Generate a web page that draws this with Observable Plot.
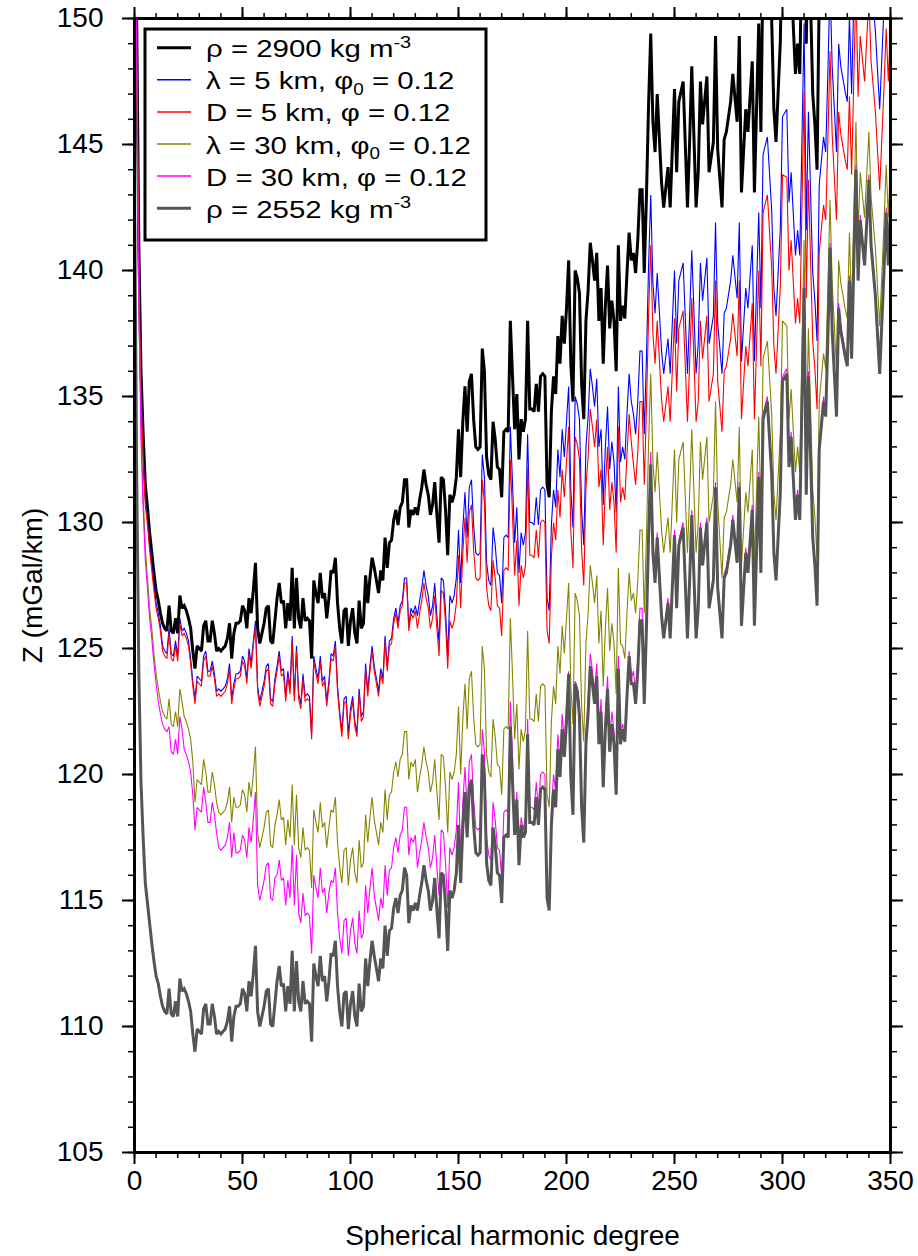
<!DOCTYPE html>
<html>
<head>
<meta charset="utf-8">
<script src="https://cdn.jsdelivr.net/npm/d3@7"></script>
<script src="https://cdn.jsdelivr.net/npm/@observablehq/plot@0.6"></script>
<style>
  html, body { margin: 0; padding: 0; background: white; overflow: hidden; }
</style>
</head>
<body>
<div id="chart"></div>
<script>
// Spherical harmonic degree (x values)
const degree = [
  0,1,2,3,4,5,6,7,8,9,10,11,12,13,14,15,16,17,18,19,
  20,21,22,23,24,25,26,27,28,29,30,31,32,33,34,35,36,37,38,39,
  40,41,42,43,44,45,46,47,48,49,50,51,52,53,54,55,56,57,58,59,
  60,61,62,63,64,65,66,67,68,69,70,71,72,73,74,75,76,77,78,79,
  80,81,82,83,84,85,86,87,88,89,90,91,92,93,94,95,96,97,98,99,
  100,101,102,103,104,105,106,107,108,109,110,111,112,113,114,115,116,117,118,119,
  120,121,122,123,124,125,126,127,128,129,130,131,132,133,134,135,136,137,138,139,
  140,141,142,143,144,145,146,147,148,149,150,151,152,153,154,155,156,157,158,159,
  160,161,162,163,164,165,166,167,168,169,170,171,172,173,174,175,176,177,178,179,
  180,181,182,183,184,185,186,187,188,189,190,191,192,193,194,195,196,197,198,199,
  200,201,202,203,204,205,206,207,208,209,210,211,212,213,214,215,216,217,218,219,
  220,221,222,223,224,225,226,227,228,229,230,231,232,233,234,235,236,237,238,239,
  240,241,
  242,244,245,247,248,250,251,252,254,256,257,258,260,261,262,263,265,266,268,269,
  270,272,273,274,276,277,279,280,281,283,284,286,287,289,290,291,293,295,296,297,
  299,300,302,303,304,306,307,308,310,311,312,314,315,316,317,319,320,321,322,323,
  325,326,327,329,330,331,332,334,335,336,338,340,341,343,345,347,348,349,350
];

// rho = 2900 kg m-3
const rho2900 = [
  163.0,150.0,141.0,136.0,133.5,131.5,130.6,129.6,128.8,128.0,127.3,
  126.9,126.4,126.0,125.8,125.7,126.7,125.7,125.6,126.2,125.6,
  127.1,126.6,126.7,126.5,126.2,125.8,124.9,124.2,125.1,125.0,
  124.9,125.9,126.1,125.3,125.3,126.1,125.6,124.9,125.0,124.9,
  125.0,125.1,125.4,126.0,124.6,125.6,126.0,126.0,126.1,126.7,
  126.5,125.8,127.0,126.4,127.3,128.4,125.8,125.2,125.6,126.0,
  126.6,126.7,125.3,125.2,126.1,127.0,127.6,126.8,126.9,125.8,
  126.8,126.1,128.2,125.8,127.8,126.2,125.8,127.0,126.1,126.2,
  126.1,124.6,127.7,127.2,126.8,128.0,127.0,127.2,126.2,127.0,
  128.1,128.0,128.6,126.8,125.8,125.2,126.5,126.6,125.1,126.1,
  126.6,125.6,125.2,126.9,125.8,126.0,127.9,126.8,127.8,128.6,
  128.2,127.7,127.2,128.1,127.7,129.4,128.2,129.2,129.3,130.1,
  130.5,129.9,130.6,130.8,131.7,131.7,129.8,130.5,130.3,130.6,
  130.3,130.9,131.4,132.1,131.5,131.1,130.3,130.7,131.6,130.3,
  129.2,131.8,131.7,130.5,128.7,131.1,130.8,131.1,131.8,133.7,
  131.8,134.0,135.4,133.6,135.6,135.9,134.1,133.0,132.9,133.0,
  136.9,136.0,132.6,131.9,131.7,134.0,133.3,132.2,132.1,131.0,
  133.6,133.7,133.6,138.0,135.8,133.7,135.1,132.5,134.1,133.6,
  134.1,138.0,134.5,134.5,134.4,135.5,134.4,135.8,135.9,135.8,
  131.5,131.0,134.4,135.8,135.1,137.4,136.3,138.2,137.1,138.5,
  140.4,136.3,134.8,140.0,139.7,139.1,135.5,134.1,138.0,139.2,
  141.1,140.4,139.6,140.7,138.0,139.3,136.3,138.6,140.2,137.7,
  138.8,138.0,136.0,141.0,138.0,138.6,138.1,139.9,141.5,140.4,
  140.7,139.9,141.2,143.2,143.2,139.9,142.9,146.6,149.4,145.9,144.7,
  147.0,143.5,142.5,144.1,142.5,147.2,143.9,146.7,147.5,142.5,145.1,148.1,142.5,143.9,147.5,145.8,147.7,143.9,145.1,149.3,
  144.8,142.5,145.2,145.5,146.7,147.8,145.9,149.3,143.1,146.4,145.5,148.3,143.1,149.8,145.5,152.4,153.2,149.9,146.4,145.1,
  149.1,154.1,154.4,150.2,151.6,147.8,149.0,147.8,158.3,149.0,154.3,147.0,145.8,144.0,151.0,153.2,152.5,156.0,160.1,156.4,
  152.5,157.4,156.4,155.2,154.8,158.6,155.1,163.6,158.6,161.4,159.3,163.2,160.2,158.0,154.4,159.1,161.7,159.3,161.9
];

// lambda = 5 km, phi0 = 0.12
const lambda5 = [
  162.2,149.3,140.3,135.3,132.8,130.9,130.1,129.1,128.3,127.5,126.8,
  126.4,125.9,125.1,124.9,124.8,125.8,124.8,124.7,125.3,124.7,
  126.2,125.7,125.8,125.6,125.3,124.6,123.7,123.0,123.9,123.8,
  123.7,124.7,124.9,124.1,124.1,124.5,124.0,123.3,123.4,123.3,
  123.4,123.5,123.8,124.4,123.0,123.6,124.0,124.0,124.1,124.7,
  124.5,123.8,125.0,124.4,125.3,126.1,123.5,122.9,123.3,123.7,
  124.3,124.4,123.0,122.9,123.8,124.3,124.9,124.1,124.2,123.1,
  124.1,123.4,125.5,123.1,125.1,123.2,122.8,124.0,123.1,123.2,
  123.1,121.6,124.7,124.2,123.8,124.7,123.7,123.9,122.9,123.7,
  124.8,124.7,125.3,123.5,122.5,121.7,123.0,123.1,121.6,122.6,
  123.1,122.1,121.7,123.4,122.3,122.5,124.4,123.3,124.3,125.1,
  124.3,123.8,123.3,124.2,123.8,125.5,124.3,125.3,125.4,126.2,
  126.6,126.0,126.7,126.9,127.8,127.8,125.9,126.6,126.4,126.7,
  126.3,126.9,127.4,128.1,127.5,127.1,126.3,126.7,127.6,126.3,
  125.2,127.8,127.7,126.5,124.7,127.1,126.8,127.1,127.8,129.7,
  127.6,129.8,131.2,129.4,131.4,131.7,129.9,128.8,128.7,128.8,
  132.7,131.8,128.4,127.7,127.5,129.8,129.1,128.0,127.9,126.8,
  129.4,129.5,129.4,133.8,131.6,129.2,130.6,128.0,129.6,129.1,
  129.6,133.5,130.0,130.0,129.9,131.0,129.9,131.3,131.4,131.3,
  127.0,126.5,129.9,131.3,130.6,132.9,131.8,133.7,132.6,134.0,
  135.4,131.3,129.8,135.0,134.7,134.1,130.5,129.1,133.0,134.2,
  136.1,135.4,134.6,135.7,133.0,133.7,130.7,133.0,134.6,132.1,
  133.2,132.4,130.4,135.4,132.4,133.0,132.5,134.3,135.9,134.8,
  134.3,133.5,134.8,136.8,136.8,133.5,136.5,140.2,143.0,139.5,138.3,
  139.9,136.8,135.9,137.3,135.9,140.0,137.1,139.6,140.3,135.9,138.2,140.8,135.9,137.1,140.3,138.8,140.5,137.1,138.2,141.9,
  137.9,135.9,138.3,138.5,139.6,140.6,138.9,141.9,136.4,139.3,138.5,141.0,136.4,142.3,138.5,144.6,145.3,142.4,139.3,138.2,
  141.7,146.1,146.4,142.7,143.9,140.6,141.6,140.6,149.8,141.6,146.3,139.9,138.8,137.2,143.4,145.3,144.7,147.8,151.4,148.1,
  144.7,149.0,148.1,147.1,146.7,150.1,147.0,154.5,150.1,152.5,150.7,154.1,151.5,149.5,146.4,150.5,152.8,150.7,153.0
];

// D = 5 km, phi = 0.12
const d5 = [
  162.0,149.1,140.1,135.1,132.6,130.7,129.9,128.9,128.1,127.3,126.6,
  126.2,125.7,124.9,124.7,124.6,125.6,124.6,124.5,125.1,124.5,
  126.0,125.5,125.6,125.4,125.1,124.4,123.5,122.8,123.7,123.6,
  123.5,124.5,124.7,123.9,123.9,124.3,123.8,123.1,123.2,123.1,
  123.2,123.3,123.6,124.2,122.8,123.4,123.8,123.8,123.9,124.5,
  124.3,123.6,124.8,124.2,125.1,125.9,123.3,122.7,123.1,123.5,
  124.1,124.2,122.8,122.7,123.6,124.1,124.7,123.9,124.0,122.9,
  123.9,123.2,125.3,122.9,124.9,123.0,122.6,123.8,122.9,123.0,
  122.9,121.4,124.5,124.0,123.6,124.5,123.5,123.7,122.7,123.5,
  124.6,124.5,125.1,123.3,122.3,121.5,122.8,122.9,121.4,122.4,
  122.9,121.9,121.5,123.2,122.1,122.3,124.2,123.1,124.1,124.9,
  124.1,123.6,123.1,124.0,123.6,125.3,124.1,125.1,125.2,126.0,
  126.4,125.8,126.5,126.7,127.6,127.6,125.7,126.4,126.2,126.5,
  125.8,126.4,126.9,127.6,127.0,126.6,125.8,126.2,127.1,125.8,
  124.7,127.3,127.2,126.0,124.2,126.1,125.8,126.1,126.8,128.7,
  126.6,128.8,130.2,128.4,130.4,130.7,128.9,127.8,127.7,127.8,
  131.7,130.8,127.4,126.7,126.5,128.5,127.8,126.7,126.6,125.5,
  128.1,128.2,128.1,132.5,130.3,127.9,129.3,126.7,128.3,127.8,
  128.3,132.2,128.7,128.7,128.6,129.7,128.6,130.0,130.1,130.0,
  125.7,125.2,128.6,130.0,129.3,131.3,130.2,132.1,131.0,132.4,
  133.8,129.7,128.2,133.4,133.1,132.5,128.9,127.5,131.4,132.6,
  134.5,133.8,133.0,134.1,131.4,132.1,129.1,131.4,133.0,130.5,
  131.6,130.8,128.8,133.8,130.8,131.4,130.9,132.7,134.3,133.2,
  132.3,131.5,132.8,134.8,134.8,131.5,134.5,138.2,141.0,137.5,136.3,
  138.0,134.9,134.0,135.4,134.0,138.1,135.2,137.7,138.4,134.0,136.3,138.9,134.0,134.8,138.0,136.5,138.2,134.8,135.9,139.6,
  135.6,133.6,136.0,136.2,137.3,138.3,136.6,139.6,134.1,137.0,136.2,138.7,134.1,140.0,136.2,142.3,143.0,140.1,137.0,135.9,
  139.4,143.8,143.7,140.0,141.2,137.9,138.9,137.9,147.1,138.9,143.6,137.2,136.1,134.5,140.7,142.6,142.0,145.1,148.7,145.4,
  142.0,146.3,145.4,144.4,144.0,146.9,143.8,151.3,146.9,149.3,147.5,150.9,148.3,146.3,143.2,147.3,149.6,147.5,149.8
];

// lambda = 30 km, phi0 = 0.12
const lambda30 = [
  162.2,148.8,139.3,134.0,131.1,129.0,127.8,126.6,125.8,124.8,124.0,
  123.4,122.9,122.5,122.3,122.2,
  123.0,122.0,121.9,122.5,121.9,123.4,122.9,
  122.3,122.1,121.8,121.4,120.5,
  118.9,119.8,119.7,119.6,120.6,
  120.1,119.3,119.3,120.1,119.6,118.9,
  118.5,118.4,118.5,118.6,118.9,119.5,118.1,119.1,
  118.7,118.7,118.8,119.4,119.2,118.5,119.7,119.1,120.0,121.1,
  117.7,117.1,117.5,117.9,118.5,118.6,117.2,117.1,118.0,
  118.4,119.0,118.2,118.3,117.2,118.2,117.5,119.6,117.2,119.2,
  117.1,116.7,117.9,117.0,117.1,117.0,115.5,118.6,118.1,117.7,118.9,117.9,118.1,117.1,117.9,
  118.6,118.5,119.1,117.3,116.3,115.7,117.0,117.1,115.6,116.6,117.1,116.1,115.7,117.4,116.3,116.5,118.4,117.3,118.3,119.1,
  118.2,117.7,117.2,118.1,117.7,119.4,118.2,119.2,119.3,120.1,120.5,119.9,120.6,120.8,121.7,121.7,119.8,120.5,120.3,120.6,
  119.3,119.9,120.4,121.1,120.5,120.1,119.3,119.7,120.6,119.3,118.2,120.8,120.7,119.5,117.7,120.1,119.8,120.1,120.8,122.7,
  120.0,122.2,123.6,121.8,123.8,124.1,122.3,121.2,121.1,121.2,125.1,124.2,120.8,120.1,119.9,122.2,121.5,120.4,120.3,119.2,121.8,121.9,121.8,126.2,124.0,
  121.4,122.8,120.2,121.8,121.3,121.8,125.7,122.2,122.2,122.1,123.2,122.1,123.5,123.6,123.5,119.2,118.7,122.1,123.5,122.8,125.1,124.0,125.9,124.8,126.2,
  127.6,123.5,122.0,127.2,126.9,126.3,122.7,121.3,125.2,126.4,128.3,127.6,126.8,127.9,125.2,126.5,123.5,125.8,127.4,124.9,126.0,125.2,123.2,128.2,125.2,
  125.1,124.6,126.4,128.0,126.9,127.2,126.4,127.7,129.7,129.7,126.4,129.4,133.1,135.9,132.4,131.2,
  132.8,129.7,128.8,130.2,128.8,132.9,130.0,132.5,133.2,128.8,131.1,133.7,128.8,130.0,133.2,131.7,133.4,130.0,131.1,134.8,
  130.8,127.8,130.2,130.4,131.5,132.5,130.8,133.8,128.3,131.2,130.4,132.9,128.3,134.2,130.4,136.5,137.2,134.3,131.2,130.1,
  133.6,138.0,137.8,134.1,135.3,132.0,133.0,132.0,141.2,133.0,137.7,131.3,130.2,128.6,134.8,136.7,136.1,139.2,142.8,139.5,
  136.1,140.4,139.5,138.5,138.1,141.5,138.4,145.9,141.5,143.9,142.1,145.5,142.9,140.9,137.8,141.9,144.2,142.1,144.4
];

// D = 30 km, phi = 0.12
const d30 = [
  162.0,148.5,138.8,133.4,130.6,128.5,127.4,126.2,125.4,124.4,123.6,
  122.9,122.4,122.0,121.8,121.7,
  121.9,120.9,120.8,121.4,120.8,122.3,121.8,
  121.0,120.8,120.5,120.1,119.2,
  117.8,118.7,118.6,118.5,119.5,
  118.9,118.1,118.1,118.9,118.4,117.7,
  117.1,117.0,117.1,117.2,117.5,118.1,116.7,117.7,
  116.9,116.9,117.0,117.6,117.4,116.7,117.9,117.3,118.2,119.3,
  115.6,115.0,115.4,115.8,116.4,116.5,115.1,115.0,115.9,
  116.0,116.6,115.8,115.9,114.8,115.8,115.1,117.2,114.8,116.8,
  114.5,114.1,115.3,114.4,114.5,114.4,112.9,116.0,115.5,115.1,116.3,115.3,115.5,114.5,115.3,
  115.8,115.7,116.3,114.5,113.5,112.9,114.2,114.3,112.8,113.8,114.3,113.3,112.9,114.6,113.5,113.7,115.6,114.5,115.5,116.3,
  115.2,114.7,114.2,115.1,114.7,116.4,115.2,116.2,116.3,117.1,117.5,116.9,117.6,117.8,118.7,118.7,116.8,117.5,117.3,117.6,
  116.3,116.9,117.4,118.1,117.5,117.1,116.3,116.7,117.6,116.3,115.2,117.8,117.7,116.5,114.7,117.1,116.8,117.1,117.8,119.7,
  116.7,118.9,120.3,118.5,120.5,120.8,119.0,117.9,117.8,117.9,121.8,120.9,117.5,116.8,116.6,118.9,118.2,117.1,117.0,115.9,118.5,118.6,118.5,122.9,120.7,
  117.9,119.3,116.7,118.3,117.8,118.3,122.2,118.7,118.7,118.6,119.7,118.6,120.0,120.1,120.0,115.7,115.2,118.6,120.0,119.3,121.6,120.5,122.4,121.3,122.7,
  124.1,120.0,118.5,123.7,123.4,122.8,119.2,117.8,121.7,122.9,124.8,124.1,123.3,124.4,121.7,123.0,120.0,122.3,123.9,121.4,122.5,121.7,119.7,124.7,121.7,
  122.0,121.5,123.3,124.9,123.8,124.1,123.3,124.6,126.6,126.6,123.3,126.3,130.0,132.8,129.3,128.1,
  129.6,126.5,125.6,127.0,125.6,129.7,126.8,129.3,130.0,125.6,127.9,130.5,125.6,126.8,130.0,128.5,130.2,126.8,127.9,131.6,
  127.6,125.6,128.0,128.2,129.3,130.3,128.6,131.6,126.1,129.0,128.2,130.7,126.1,132.0,128.2,134.3,135.0,132.1,129.0,127.9,
  131.4,135.8,136.1,132.4,133.6,130.3,131.3,130.3,139.5,131.3,136.0,129.6,128.5,126.9,133.1,135.0,134.4,137.5,141.1,137.8,
  134.4,138.7,137.8,136.8,136.4,139.8,136.7,144.2,139.8,142.2,140.4,143.8,141.2,139.2,136.1,140.2,142.5,140.4,142.7
];

// rho = 2552 kg m-3
const rho2552 = [
  143.4,132.0,124.1,119.7,117.5,115.7,114.9,114.1,113.3,112.6,112.0,
  111.7,111.2,110.8,110.6,110.5,111.5,110.5,110.4,111.0,110.4,
  111.9,111.4,111.5,111.3,111.0,110.6,109.7,109.0,109.9,109.8,
  109.7,110.7,110.9,110.1,110.1,110.9,110.4,109.7,109.8,109.7,
  109.8,109.9,110.2,110.8,109.4,110.4,110.8,110.8,110.9,111.5,
  111.3,110.6,111.8,111.2,112.1,113.2,110.6,110.0,110.4,110.8,
  111.4,111.5,110.1,110.0,110.9,111.8,112.4,111.6,111.7,110.6,
  111.6,110.9,113.0,110.6,112.6,111.0,110.6,111.8,110.9,111.0,
  110.9,109.4,112.5,112.0,111.6,112.8,111.8,112.0,111.0,111.8,
  112.9,112.8,113.4,111.6,110.6,110.0,111.3,111.4,109.9,110.9,
  111.4,110.4,110.0,111.7,110.6,110.8,112.7,111.6,112.6,113.4,
  112.8,112.3,111.8,112.7,112.3,114.0,112.8,113.8,113.9,114.7,115.1,114.5,115.2,115.4,116.3,
  116.0,114.1,114.8,114.6,114.9,114.6,115.2,115.7,116.4,115.8,115.4,114.6,115.0,115.9,114.6,113.5,116.1,116.0,114.8,113.0,115.4,115.1,115.4,116.1,118.0,
  115.7,117.9,119.3,117.5,119.5,119.8,118.0,116.9,116.8,116.9,120.8,119.9,116.5,115.8,115.6,117.9,117.2,116.1,116.0,114.9,117.5,117.6,117.5,121.9,119.7,117.6,119.0,116.4,118.0,117.5,
  117.7,121.6,118.1,118.1,118.0,119.1,118.0,119.4,119.5,119.4,115.1,114.6,118.0,119.4,118.7,121.0,119.9,121.8,120.7,122.1,124.0,119.9,118.4,123.6,123.3,
  122.3,118.7,117.3,121.2,122.4,124.3,123.6,122.8,123.9,121.2,122.5,119.5,121.8,123.4,120.9,122.0,121.2,119.2,124.2,121.2,121.8,121.3,123.1,124.7,123.6,
  123.6,122.8,124.1,126.1,126.1,122.8,125.8,129.5,132.3,128.8,127.6,
  129.4,126.3,125.4,126.8,125.4,129.5,126.6,129.1,129.8,125.4,127.7,130.3,125.4,126.6,129.8,128.3,130.0,126.6,127.7,131.4,
  127.4,125.4,127.8,128.0,129.1,130.1,128.4,131.4,125.9,128.8,128.0,130.5,125.9,131.8,128.0,134.1,134.8,131.9,128.8,127.7,
  131.2,135.6,135.9,132.2,133.4,130.1,131.1,130.1,139.3,131.1,135.8,129.4,128.3,126.7,132.9,134.8,134.2,137.3,140.9,137.6,
  134.2,138.5,137.6,136.6,136.2,139.6,136.5,144.0,139.6,142.0,140.2,143.6,141.0,139.0,135.9,140.0,142.3,140.2,142.5
];

// Axis ticks
const xMajorTicks = [0, 50, 100, 150, 200, 250, 300, 350];
const xMinorTicks = [0,10,20,30,40,50,60,70,80,90,100,110,120,130,140,150,160,170,180,190,200,210,220,230,240,250,260,270,280,290,300,310,320,330,340,350];
const yMajorTicks = [105, 110, 115, 120, 125, 130, 135, 140, 145, 150];
const yMinorTicks = [105,106,107,108,109,110,111,112,113,114,115,116,117,118,119,120,121,122,123,124,125,126,127,128,129,130,131,132,133,134,135,136,137,138,139,140,141,142,143,144,145,146,147,148,149,150];

// Series: legend labels, colors
const seriesNames = ["rho2900", "lambda5", "d5", "lambda30", "d30", "rho2552"];
const seriesColors = ["#000000", "#0000ff", "#ff0000", "#858500", "#ff00ff", "#555555"];
const seriesWidths = [3, 1.1, 1.1, 1.1, 1.1, 3];
const seriesValues = [rho2900, lambda5, d5, lambda30, d30, rho2552];
const legendParts = [
  [["ρ = 2900 kg m", ""], ["-3", "sup"]],
  [["λ = 5 km, φ", ""], ["0", "sub"], [" = 0.12", "back"]],
  [["D = 5 km, φ = 0.12", ""]],
  [["λ = 30 km, φ", ""], ["0", "sub"], [" = 0.12", "back"]],
  [["D = 30 km, φ = 0.12", ""]],
  [["ρ = 2552 kg m", ""], ["-3", "sup"]]
];

seriesValues.forEach((arr, i) => {
  if (arr.length !== degree.length) console.error("length mismatch", seriesNames[i], arr.length, degree.length);
});

const FONT = "'Liberation Sans', Arial, Helvetica, sans-serif";

const lineMarks = seriesValues.map((vals, i) => {
  const rows = degree.map((d, j) => ({d, v: vals[j]}));
  return Plot.line(rows, {
    x: "d", y: "v",
    stroke: seriesColors[i],
    strokeWidth: seriesWidths[i],
    strokeLinejoin: "miter",
    strokeMiterlimit: 2,
    clip: true
  });
});

const blank = () => "";

const chart = Plot.plot({
  width: 918,
  height: 1256,
  marginLeft: 134,
  marginRight: 28,
  marginTop: 18,
  marginBottom: 104,
  x: {domain: [0, 350], label: null},
  y: {domain: [105, 150], label: null},
  style: {fontFamily: FONT, fontSize: "28px", background: "white", color: "black", overflow: "visible"},
  marks: [
    ...lineMarks,
    Plot.axisX({ticks: xMinorTicks, tickSize: 6, tickFormat: blank, strokeWidth: 1.5, label: null}),
    Plot.axisX({ticks: xMajorTicks, tickSize: 12, tickPadding: 6, strokeWidth: 2, fontSize: 28,
      label: "Spherical harmonic degree", labelArrow: "none", labelAnchor: "center", labelOffset: 92}),
    Plot.axisX({anchor: "top", ticks: xMinorTicks, tickSize: 6, tickFormat: blank, strokeWidth: 1.5, label: null}),
    Plot.axisX({anchor: "top", ticks: xMajorTicks, tickSize: 12, tickFormat: blank, strokeWidth: 2, label: null}),
    Plot.axisY({ticks: yMinorTicks, tickSize: 6, tickFormat: blank, strokeWidth: 1.5, label: null}),
    Plot.axisY({ticks: yMajorTicks, tickSize: 12, tickPadding: 19, strokeWidth: 2, fontSize: 28,
      label: "Z (mGal/km)", labelArrow: "none", labelAnchor: "center", labelOffset: 112}),
    Plot.axisY({anchor: "right", ticks: yMinorTicks, tickSize: 6, tickFormat: blank, strokeWidth: 1.5, label: null}),
    Plot.axisY({anchor: "right", ticks: yMajorTicks, tickSize: 12, tickFormat: blank, strokeWidth: 2, label: null}),
    Plot.frame({strokeWidth: 3})
  ]
});

document.getElementById("chart").appendChild(chart);

// Legend box drawn inside the plot SVG
const svg = d3.select(chart.tagName.toLowerCase() === "svg" ? chart : chart.querySelector("svg"));
const lg = svg.append("g")
  .attr("font-family", FONT).attr("font-size", 28).attr("fill", "black")
  .attr("text-anchor", "start");
lg.append("rect")
  .attr("x", 145).attr("y", 29).attr("width", 341).attr("height", 211)
  .attr("fill", "white").attr("stroke", "black").attr("stroke-width", 3);
legendParts.forEach((parts, i) => {
  const yl = 47.7 + 32.1 * i;
  lg.append("line")
    .attr("x1", 157).attr("x2", 191).attr("y1", yl).attr("y2", yl)
    .attr("stroke", seriesColors[i]).attr("stroke-width", seriesWidths[i] > 2 ? 3 : 1.5);
  // glyphs in the reference are wide and short: slight horizontal stretch, vertical squeeze
  const t = lg.append("text")
    .attr("x", 0).attr("y", 0)
    .attr("transform", `translate(206,${yl + 9.5}) scale(1.05,0.88)`)
    .attr("text-anchor", "start");
  parts.forEach(([s, kind]) => {
    const ts = t.append("tspan").text(s);
    if (kind === "sup") ts.attr("font-size", 19).attr("dy", -11);
    else if (kind === "sub") ts.attr("font-size", 18).attr("dy", 6);
    else if (kind === "back") ts.attr("dy", -6);
  });
});
</script>
</body>
</html>
